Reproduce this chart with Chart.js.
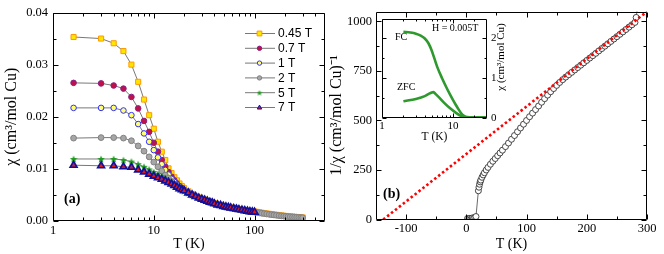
<!DOCTYPE html>
<html>
<head>
<meta charset="utf-8">
<script src="https://cdn.jsdelivr.net/npm/chart.js@4.4.1/dist/chart.umd.min.js"></script>
<style>
  html, body { margin: 0; padding: 0; background: #fff; }
  #wrap { position: relative; width: 664px; height: 254px; overflow: hidden; }
  canvas { position: absolute; }
</style>
</head>
<body>
<div id="wrap">
  <canvas id="chartA" width="332" height="254" style="left:0;top:0"></canvas>
  <canvas id="chartB" width="338" height="254" style="left:326px;top:0"></canvas>
  <canvas id="inset" width="145" height="137" style="left:370px;top:8px"></canvas>
</div>
<script>
// ---------- panel (a): chi vs T for several fields ----------
const fieldLabels = ['0.45 T', '0.7 T', '1 T', '2 T', '5 T', '7 T'];
const tLow = [1.6, 3, 4, 5, 6, 7, 8, 9, 10, 11, 12, 13, 14];
const tMid = [15, 16, 17, 18, 19, 20, 22, 24, 26, 28, 30, 32, 34, 36, 38, 40, 43, 46, 49, 52, 55, 58, 62, 66, 70, 75, 80, 85, 90, 95];
const tHigh = [100, 106, 112, 118, 125, 132, 140, 148, 156, 165, 175, 185, 195, 205, 215, 226, 238, 250, 262, 275, 288, 300];

const chi045Low = [0.0353, 0.0350, 0.0341, 0.0326, 0.0300, 0.0267, 0.0233, 0.0203, 0.0177, 0.0152, 0.0133, 0.0117, 0.0101];
const chi045Mid = [0.0092, 0.0084, 0.0078, 0.0072, 0.0067, 0.0063, 0.0057, 0.0052, 0.0048, 0.0045, 0.0043, 0.0041, 0.0039, 0.0037, 0.0036, 0.0034, 0.0032, 0.0031, 0.0029, 0.0028, 0.0027, 0.0026, 0.0025, 0.0024, 0.0023, 0.0022, 0.0021, 0.0020, 0.0019, 0.00185];
const chi045High = [0.00182, 0.00174, 0.00166, 0.00158, 0.00151, 0.00144, 0.00137, 0.00130, 0.00124, 0.00118, 0.00112, 0.00106, 0.00101, 0.00096, 0.00092, 0.00088, 0.00084, 0.00080, 0.00077, 0.00074, 0.00071, 0.00068];

const chi07Low = [0.0265, 0.0264, 0.0260, 0.0254, 0.0238, 0.0216, 0.0192, 0.0171, 0.0150, 0.0133, 0.0117, 0.0104, 0.0094];
const chi07Mid = [0.0085, 0.0078, 0.0072, 0.0067, 0.0063, 0.0060, 0.0055, 0.0051];

const chi1Low = [0.0217, 0.0217, 0.0217, 0.0212, 0.0203, 0.0186, 0.0168, 0.0152, 0.0136, 0.0122, 0.0109, 0.0098, 0.0089];
const chi1Mid = [0.0081, 0.0075, 0.0070, 0.0066, 0.0062, 0.0059, 0.0054, 0.0050];

const chi2Low = [0.0159, 0.0160, 0.0160, 0.0159, 0.0154, 0.0144, 0.0134, 0.0123, 0.0113, 0.0104, 0.0096, 0.0088, 0.0082];
const chi2Mid = [0.0076, 0.0071, 0.0067, 0.0064, 0.0061, 0.0058, 0.0054, 0.0050, 0.0047, 0.0044, 0.0042, 0.0040, 0.0038, 0.0036, 0.0035, 0.0033, 0.0031, 0.0030, 0.0028, 0.0027, 0.0026, 0.0025, 0.0024, 0.0023, 0.0022, 0.0021, 0.0020, 0.0019, 0.0018, 0.00177];
const chi2High = [0.00172, 0.00164, 0.00156, 0.00149, 0.00142, 0.00135, 0.00128, 0.00122, 0.00116, 0.00110, 0.00104, 0.00099, 0.00094, 0.00089, 0.00085, 0.00081, 0.00077, 0.00074, 0.00071, 0.00068, 0.00065, 0.00062];

const chi5Low = [0.0119, 0.0119, 0.0119, 0.0117, 0.0114, 0.0109, 0.0104, 0.0099, 0.0094, 0.0090, 0.0086, 0.0082, 0.0078];
const chi5Mid = [0.0074, 0.0070, 0.0067, 0.0063, 0.0061, 0.0058, 0.0054, 0.0050];

const chi7Low = [0.0107, 0.0106, 0.0106, 0.0104, 0.0103, 0.0098, 0.0094, 0.0090, 0.0086, 0.0083, 0.0080, 0.0077, 0.0074];
const chi7Mid = [0.0071, 0.0068, 0.0065, 0.0062, 0.0060, 0.0058, 0.0054, 0.0050, 0.0047, 0.0044, 0.0042, 0.0040, 0.0038, 0.0036, 0.0035, 0.0033, 0.0031, 0.0030, 0.0028, 0.0027, 0.0026, 0.0025, 0.0024, 0.0023, 0.0022, 0.0021, 0.0020, 0.0019, 0.0018, 0.00175];
const chi7High = [0.0017];

const aTicksX = [1, 10, 100];
const aMinorX = [2, 3, 4, 5, 6, 7, 8, 9, 20, 30, 40, 50, 60, 70, 80, 90, 200, 300, 400];
const aTicksY = [0, 0.01, 0.02, 0.03, 0.04];
const aMinorY = [0.005, 0.015, 0.025, 0.035];

// ---------- panel (b): 1/chi vs T with Curie-Weiss line ----------
const tInv = [2, 4, 6, 8, 10, 12, 14, 16, 20, 21, 22, 23, 24, 26, 28, 30, 33, 36, 40, 44, 48, 52, 56, 60, 65, 70, 75, 80, 85, 90, 95, 100,
  105, 110, 115, 120, 125, 130, 135, 140, 145, 150, 155, 160, 165, 170, 175, 180, 185, 190, 195, 200,
  205, 210, 215, 220, 225, 230, 235, 240, 245, 250, 255, 260, 265, 270, 275, 280, 282, 285];
const invChi = [5, 3, 6, 4, 8, 6, 10, 15, 145, 163, 178, 190, 199, 213, 225, 236, 250, 263, 279, 294, 308, 322, 336, 350, 368, 386, 405, 424, 443, 462, 481, 500,
  519, 537, 555, 573, 592, 610, 628, 645, 661, 677, 692, 706, 719, 731, 743, 755, 767, 779, 791, 803,
  815, 827, 839, 851, 863, 875, 887, 899, 911, 923, 935, 947, 959, 971, 983, 995, 1020, 1090];
const tFit = [-138, 300];
const invFit = [0, 1050];

const bTicksX = [-100, 0, 100, 200, 300];
const bMinorX = [-50, 50, 150, 250];
const bTicksY = [0, 250, 500, 750, 1000];
const bMinorY = [125, 375, 625, 875];

// ---------- inset: FC / ZFC at H = 0.005 T ----------
const tFC = [2, 2.5, 3, 3.5, 4, 4.5, 5, 5.5, 6, 7, 8, 9, 10, 11, 12, 13, 14, 15, 17, 20, 25, 30];
const chiFC = [2.17, 2.15, 2.12, 2.07, 2.0, 1.88, 1.7, 1.48, 1.28, 1.0, 0.78, 0.6, 0.45, 0.32, 0.21, 0.12, 0.06, 0.03, 0.02, 0.02, 0.02, 0.02];
const tZFC = [2, 3, 4, 4.5, 5, 5.3, 5.7, 6.5, 7.5, 9, 11, 13, 15];
const chiZFC = [0.42, 0.48, 0.55, 0.6, 0.64, 0.65, 0.6, 0.5, 0.38, 0.25, 0.13, 0.05, 0.02];

const iTicksX = [1, 10];
const iMinorX = [2, 3, 4, 5, 6, 7, 8, 9, 20];
const iTicksY = [0, 1, 2];
const iMinorY = [0.5, 1.5];

const SERIF = '"Liberation Serif", "Times New Roman", serif';
const SANS = '"Liberation Sans", Arial, sans-serif';

function pts(ts, vals) {
    return vals.map((v, i) => ({ x: ts[i], y: v }));
}

function starImage(size, color) {
    const c = document.createElement('canvas');
    c.width = c.height = size;
    const g = c.getContext('2d');
    g.fillStyle = color;
    g.beginPath();
    for (let i = 0; i < 10; i++) {
        const r = i % 2 ? size * 0.21 : size * 0.5;
        const a = -Math.PI / 2 + i * Math.PI / 5;
        g.lineTo(size / 2 + r * Math.cos(a), size / 2 + size * 0.06 + r * Math.sin(a));
    }
    g.closePath();
    g.fill();
    return c;
}

const seriesA = [
    { parts: [pts(tLow, chi045Low), pts(tMid, chi045Mid), pts(tHigh, chi045High)], style: 'rect', r: 3.6, fill: '#FFE600', edge: '#FF9900' },
    { parts: [pts(tLow, chi07Low), pts(tMid, chi07Mid)], style: 'circle', r: 2.8, fill: '#C0104A', edge: '#8A2080' },
    { parts: [pts(tLow, chi1Low), pts(tMid, chi1Mid)], style: 'circle', r: 2.8, fill: '#FFFF70', edge: '#3030FF' },
    { parts: [pts(tLow, chi2Low), pts(tMid, chi2Mid), pts(tHigh, chi2High)], style: 'circle', r: 2.9, fill: '#A6A6A6', edge: '#808080' },
    { parts: [pts(tLow, chi5Low), pts(tMid, chi5Mid)], style: 'star', r: 3, fill: '#1E9A1E', edge: '#1E9A1E' },
    { parts: [pts(tLow, chi7Low), pts(tMid, chi7Mid), pts(tHigh, chi7High)], style: 'triangle', r: 4, fill: '#E01818', edge: '#10109A' }
];

// box + inward ticks on all four sides
function frameTicks(cfg) {
    return {
        id: 'frameTicks',
        afterDatasetsDraw(chart) {
            const { ctx, chartArea: a, scales } = chart;
            const L = Math.round(a.left) + 0.5, R = Math.round(a.right) - 0.5;
            const T = Math.round(a.top) + 0.5, B = Math.round(a.bottom) - 0.5;
            ctx.save();
            ctx.strokeStyle = '#000';
            ctx.lineWidth = 1;
            ctx.beginPath();
            ctx.rect(L, T, R - L, B - T);
            const tx = (vals, len) => vals.forEach(v => {
                const p = Math.round(scales.x.getPixelForValue(v)) + 0.5;
                ctx.moveTo(p, B); ctx.lineTo(p, B - len);
                ctx.moveTo(p, T); ctx.lineTo(p, T + len);
            });
            const ty = (vals, len) => vals.forEach(v => {
                const p = Math.round(scales.y.getPixelForValue(v)) + 0.5;
                ctx.moveTo(L, p); ctx.lineTo(L + len, p);
                ctx.moveTo(R, p); ctx.lineTo(R - len, p);
            });
            tx(cfg.xMajor, cfg.major); tx(cfg.xMinor, cfg.minor);
            ty(cfg.yMajor, cfg.major); ty(cfg.yMinor, cfg.minor);
            ctx.stroke();
            ctx.restore();
        }
    };
}

function drawMarker(ctx, s, x, y, r) {
    ctx.save();
    if (s.style === 'star') {
        const img = starImage(Math.round(r * 2.6), s.fill);
        ctx.drawImage(img, x - img.width / 2, y - img.height / 2);
        ctx.restore();
        return;
    }
    ctx.fillStyle = s.fill;
    ctx.strokeStyle = s.edge;
    ctx.lineWidth = 1;
    ctx.beginPath();
    if (s.style === 'rect') ctx.rect(x - r, y - r, 2 * r, 2 * r);
    else if (s.style === 'circle') ctx.arc(x, y, r, 0, Math.PI * 2);
    else { ctx.moveTo(x, y - r * 1.1); ctx.lineTo(x + r, y + r * 0.7); ctx.lineTo(x - r, y + r * 0.7); ctx.closePath(); }
    ctx.fill();
    ctx.stroke();
    ctx.restore();
}

const legendA = {
    id: 'legendA',
    afterDraw(chart) {
        const ctx = chart.ctx;
        ctx.save();
        seriesA.forEach((s, i) => {
            const y = 33.5 + i * 14.8;
            ctx.strokeStyle = '#555';
            ctx.lineWidth = 0.8;
            ctx.beginPath();
            ctx.moveTo(245, y); ctx.lineTo(275, y);
            ctx.stroke();
            drawMarker(ctx, s, 259.5, y, s.style === 'rect' ? 2.4 : 2.2);
            ctx.fillStyle = '#000';
            ctx.font = '12px ' + SANS;
            ctx.textBaseline = 'middle';
            ctx.textAlign = 'left';
            ctx.fillText(fieldLabels[i], 278, y + 0.5);
        });
        ctx.font = 'bold 14px ' + SERIF;
        ctx.fillText('(a)', 64, 199);
        ctx.restore();
    }
};

function axisFont(size) {
    return { family: SERIF, size: size };
}

const datasetsA = seriesA.map((s, i) => ({
    label: fieldLabels[i],
    data: s.parts.flat(),
    order: seriesA.length - i,
    showLine: true,
    fill: false,
    borderColor: '#555',
    borderWidth: 0.8,
    pointStyle: s.style === 'star' ? starImage(8, s.fill) : s.style,
    pointRadius: s.r,
    pointBackgroundColor: s.fill,
    pointBorderColor: s.edge,
    pointBorderWidth: s.style === 'triangle' ? 1.6 : 1
}));

new Chart(document.getElementById('chartA'), {
    type: 'line',
    data: { datasets: datasetsA },
    options: {
        responsive: false,
        animation: false,
        devicePixelRatio: 1,
        layout: { padding: { left: 0, right: 7, top: 12, bottom: 0 } },
        plugins: { legend: { display: false }, tooltip: { enabled: false } },
        scales: {
            x: {
                type: 'logarithmic', min: 1, max: 500,
                grid: { display: false, drawTicks: false },
                border: { display: false },
                afterBuildTicks: s => { s.ticks = aTicksX.map(v => ({ value: v })); },
                afterFit: s => { s.height = 33; },
                ticks: { color: '#000', font: axisFont(12.5), padding: 2, maxRotation: 0, autoSkip: false, callback: v => String(v) },
                title: { display: true, text: 'T (K)', color: '#000', font: axisFont(14), padding: { top: 0, bottom: 1 } }
            },
            y: {
                type: 'linear', min: 0, max: 0.04,
                grid: { display: false, drawTicks: false },
                border: { display: false },
                afterBuildTicks: s => { s.ticks = aTicksY.map(v => ({ value: v })); },
                afterFit: s => { s.width = 53; },
                ticks: { color: '#000', font: axisFont(12.5), padding: 5, callback: v => v.toFixed(2) },
                title: { display: true, text: 'χ (cm³/mol Cu)', color: '#000', font: axisFont(16), padding: { top: 2, bottom: 0 } }
            }
        }
    },
    plugins: [frameTicks({ xMajor: aTicksX, xMinor: aMinorX, yMajor: aTicksY, yMinor: aMinorY, major: 5, minor: 3 }), legendA]
});

// ---------- panel (b) ----------
const labelB = {
    id: 'labelB',
    afterDraw(chart) {
        const ctx = chart.ctx;
        ctx.save();
        ctx.fillStyle = '#000';
        ctx.font = 'bold 14px ' + SERIF;
        ctx.textBaseline = 'middle';
        ctx.fillText('(b)', 57, 194);
        ctx.restore();
    }
};

new Chart(document.getElementById('chartB'), {
    type: 'line',
    data: {
        datasets: [
            {
                label: 'Curie-Weiss fit',
                data: pts(tFit, invFit),
                order: 0,
                borderColor: '#FF0000',
                borderWidth: 2.6,
                borderDash: [2.5, 2.5],
                pointRadius: 0,
                fill: false
            },
            {
                label: '1/chi',
                data: pts(tInv, invChi),
                order: 1,
                borderColor: '#444',
                borderWidth: 0.8,
                pointStyle: 'circle',
                pointRadius: 3,
                pointBackgroundColor: '#fff',
                pointBorderColor: '#333',
                pointBorderWidth: 0.9,
                fill: false
            }
        ]
    },
    options: {
        responsive: false,
        animation: false,
        devicePixelRatio: 1,
        layout: { padding: { left: 0, right: 17, top: 9, bottom: 0 } },
        plugins: { legend: { display: false }, tooltip: { enabled: false } },
        scales: {
            x: {
                type: 'linear', min: -150, max: 300,
                grid: { display: false, drawTicks: false },
                border: { display: false },
                afterBuildTicks: s => { s.ticks = bTicksX.map(v => ({ value: v })); },
                afterFit: s => { s.height = 34.5; },
                ticks: { color: '#000', font: axisFont(12.5), padding: 2, maxRotation: 0, autoSkip: false, callback: v => String(v) },
                title: { display: true, text: 'T (K)', color: '#000', font: axisFont(14), padding: { top: 0, bottom: 1 } }
            },
            y: {
                type: 'linear', min: 0, max: 1050,
                grid: { display: false, drawTicks: false },
                border: { display: false },
                afterBuildTicks: s => { s.ticks = bTicksY.map(v => ({ value: v })); },
                afterFit: s => { s.width = 50; },
                ticks: { color: '#000', font: axisFont(12.5), padding: 4, callback: v => String(v) },
                title: { display: true, text: '1/χ (cm³/mol Cu)⁻¹', color: '#000', font: axisFont(16), padding: { top: 1.5, bottom: 0 } }
            }
        }
    },
    plugins: [frameTicks({ xMajor: bTicksX, xMinor: bMinorX, yMajor: bTicksY, yMinor: bMinorY, major: 5, minor: 3 }), labelB]
});

// ---------- inset ----------
const insetText = {
    id: 'insetText',
    afterDraw(chart) {
        const ctx = chart.ctx;
        ctx.save();
        ctx.fillStyle = '#000';
        ctx.textBaseline = 'middle';
        ctx.font = '10px ' + SERIF;
        ctx.fillText('H = 0.005T', 62, 20);
        ctx.fillText('FC', 25, 29);
        ctx.fillText('ZFC', 27, 79);
        ctx.translate(131, 49);
        ctx.rotate(-Math.PI / 2);
        ctx.textAlign = 'center';
        ctx.font = '11px ' + SERIF;
        ctx.fillText('χ (cm³/mol Cu)', 0, 0);
        ctx.restore();
    }
};

new Chart(document.getElementById('inset'), {
    type: 'line',
    data: {
        datasets: [
            { label: 'FC', data: pts(tFC, chiFC), borderColor: '#2E9A2E', borderWidth: 2.6, pointRadius: 0, cubicInterpolationMode: 'monotone', fill: false },
            { label: 'ZFC', data: pts(tZFC, chiZFC), borderColor: '#2E9A2E', borderWidth: 2.6, pointRadius: 0, cubicInterpolationMode: 'monotone', fill: false }
        ]
    },
    options: {
        responsive: false,
        animation: false,
        devicePixelRatio: 1,
        layout: { padding: { left: 12, right: 0, top: 10, bottom: 0 } },
        plugins: { legend: { display: false }, tooltip: { enabled: false } },
        scales: {
            x: {
                type: 'logarithmic', min: 1, max: 30,
                grid: { display: false, drawTicks: false },
                border: { display: false },
                afterBuildTicks: s => { s.ticks = iTicksX.map(v => ({ value: v })); },
                afterFit: s => { s.height = 27; },
                ticks: { color: '#000', font: axisFont(11), padding: 1.5, maxRotation: 0, autoSkip: false, callback: v => String(v) },
                title: { display: true, text: 'T (K)', color: '#000', font: axisFont(11.5), padding: { top: 0, bottom: 1.5 } }
            },
            y: {
                type: 'linear', min: 0, max: 2.5, position: 'right',
                grid: { display: false, drawTicks: false },
                border: { display: false },
                afterBuildTicks: s => { s.ticks = iTicksY.map(v => ({ value: v })); },
                afterFit: s => { s.width = 28; },
                ticks: { color: '#000', font: axisFont(11), padding: 4, callback: v => String(v) }
            }
        }
    },
    plugins: [frameTicks({ xMajor: iTicksX, xMinor: iMinorX, yMajor: iTicksY, yMinor: iMinorY, major: 4, minor: 2 }), insetText]
});
</script>
</body>
</html>
